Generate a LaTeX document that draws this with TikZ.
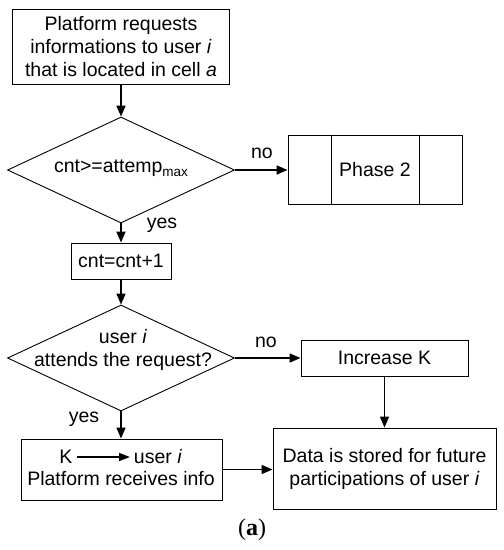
\documentclass[tikz,border=0pt]{standalone}
\usepackage{fontspec}
\setmainfont{Liberation Sans}
\newfontfamily\capfont{Liberation Serif}
\usetikzlibrary{shapes.geometric,arrows.meta}
\newcommand{\fs}{\fontsize{19.5}{23}\selectfont}
\tikzset{
  box/.style={draw, line width=0.9pt, inner sep=0pt, align=center, font=\fs},
  dia/.style={draw, diamond, line width=0.9pt, inner sep=0pt, minimum width=227pt, minimum height=106pt},
  txt/.style={inner sep=0pt, align=center, font=\fs},
  arr/.style={line width=1.6pt, -{Triangle[length=11pt,width=9pt]}},
  smallarr/.style={line width=1.4pt, -{Triangle[length=11pt,width=8pt]}}
}
\begin{document}
\begin{tikzpicture}[x=1pt,y=-1pt]
\useasboundingbox (0,0) rectangle (504,550);
% top box
\node[box, minimum width=217pt, minimum height=75pt] (top) at (121,46.5)
  {Platform requests\\informations to user \textit{i}\\that is located in cell \textit{a}};
% diamond 1
\node[dia] (d1) at (121,170) {};
\node[txt] (d1t) at (121,168) {cnt>=attemp\raisebox{-4pt}{\fontsize{13.5}{13.5}\selectfont max}};
% phase 2
\node[box, minimum width=174pt, minimum height=69pt] (ph) at (375,169.5) {Phase 2};
\draw[line width=0.9pt] ([xshift=44pt]ph.north west) -- ([xshift=44pt]ph.south west);
\draw[line width=0.9pt] ([xshift=-43pt]ph.north east) -- ([xshift=-43pt]ph.south east);
\node[txt] (no1) at (262,153) {no};
\node[txt] (yes1) at (162,225) {yes};
% cnt box
\node[box, minimum width=100pt, minimum height=36pt] (cnt) at (121,261) {cnt=cnt+1};
% diamond 2
\node[dia] (d2) at (121,358) {};
\node[txt] (d2t) at (123,350) {user \textit{i}\\attends the request?};
\node[txt] (no2) at (266,342) {no};
\node[txt] (yes2) at (84,419) {yes};
% increase K
\node[box, minimum width=167pt, minimum height=36pt] (inc) at (384.5,358) {Increase K};
% data box
\node[box, minimum width=223pt, minimum height=81pt] (data) at (384.5,468.5)
  {Data is stored for future\\participations of user \textit{i}};
% K box
\node[box, minimum width=201pt, minimum height=61pt] (kb) at (121.5,469.5) {};
\node[txt] (kk) at (66,457) {K};
\node[txt] (ku) at (158,457) {user \textit{i}};
\node[txt] (kp) at (121,479) {Platform receives info};
\draw[smallarr] (kk.east) ++(4pt,0) coordinate (ks) -- (ku.west -| 130,0);
% caption
\node[inner sep=0pt, font=\capfont\fontsize{24}{28}\selectfont] (cap) at (252,530) {(\textbf{a})};
% connectors
\draw[arr] (top.south -| d1.north) -- (d1.north);
\draw[arr] (d1.east) -- (d1.east -| ph.west);
\draw[arr] (d1.south) -- (cnt.north);
\draw[arr] (cnt.south) -- (d2.north);
\draw[arr] (d2.east) -- (inc.west);
\draw[arr] (d2.south) -- (kb.north -| d2.south);
\draw[arr] (inc.south) -- (data.north);
\draw[arr] (kb.east) -- (kb.east -| data.west);
\end{tikzpicture}
\end{document}
